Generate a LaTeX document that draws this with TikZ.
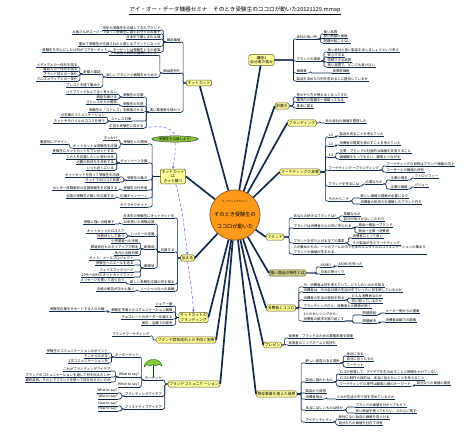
\documentclass[tikz,border=0pt]{standalone}
\usepackage{fontspec}
\setmainfont{Noto Sans CJK JP}
\usetikzlibrary{arrows.meta,shapes.geometric}
\definecolor{navy}{HTML}{13294B}
\definecolor{topicfill}{HTML}{FFFF99}
\definecolor{topicline}{HTML}{5A5A2A}
\definecolor{olivefill}{HTML}{CCCC88}
\definecolor{hubfill}{HTML}{FF9A1A}
\definecolor{relblue}{HTML}{5555EE}
\definecolor{leafgreen}{HTML}{8CC63F}
\newcommand{\lfs}{\fontsize{3.4}{4.2}\selectfont}
\newcommand{\tfs}{\fontsize{3.8}{4.4}\selectfont}

\begin{document}
\begin{tikzpicture}[x=1pt,y=-1pt,
  leaf/.style={font=\lfs,inner sep=0.4pt,align=left,
    append after command={(\tikzlastnode.south west) edge[draw=navy,line width=0.7pt] (\tikzlastnode.south east)}},
  lr/.style={leaf,anchor=south west},
  ll/.style={leaf,anchor=south east},
  topic/.style={draw=topicline,fill=topicfill,line width=0.5pt,rounded corners=1.5pt,
    font=\tfs,inner sep=1.3pt,align=center},
  spoke/.style={draw=navy,line width=1.7pt},
  tr/.style={draw=navy,line width=0.6pt,rounded corners=1.2pt,to path={-- ++(#1,0) |- (\tikztotarget)}},
  tr/.default=3,
  tl/.style={draw=navy,line width=0.6pt,rounded corners=1.2pt,to path={-- ++(-#1,0) |- (\tikztotarget)}},
  tl/.default=3,
  rel/.style={draw=relblue,densely dashed,line width=0.45pt,-{Stealth[length=3pt,width=2.4pt]}}]
  \path[use as bounding box,fill=white] (0,0) rectangle (470,442);

  \node[font=\fontsize{5.6}{6}\selectfont,anchor=south,inner sep=0.6pt] (title) at (235,14)
    {アイ・オー・データ機器セミナ　そのとき受験生のココロが動いた20121129.mmap};
  \draw[line width=0.4pt] (title.south west) -- (title.south east);

  \node[circle,draw=brown!60!black,fill=hubfill,minimum size=50,inner sep=0,line width=0.6pt,align=center] (hub) at (235,215)
    {{\fontsize{2.4}{3}\selectfont マーケティングセミナー}\\[2pt]{\fontsize{5.2}{6.4}\selectfont そのとき受験生の}\\{\fontsize{5.2}{6.4}\selectfont ココロが動いた}};

  \node[topic] (kk) at (199,83) {キットカット};
  \node[topic] (kkw) at (173,176.5) {キットカット\\は\\きっと勝つ};
  \node[topic,fill=topicfill!75!olivefill] (tsu) at (187.5,258) {伝える};
  \node[topic] (kbr) at (193.5,317.5) {キットカットの\\ブランディング};
  \node[topic] (bkc) at (186,340) {ブランド認知度向上の手段と施策};
  \node[topic] (bcom) at (194,384) {ブランドコミュニケーション};
  \node[topic] (ko1) at (261.5,60) {講座1\\自分達の強み};
  \node[topic] (mae) at (282,106) {前置き};
  \node[topic] (brd) at (302,123) {ブランディング};
  \node[topic] (mkt) at (300,172) {マーケティングの変遷};
  \node[topic] (brand) at (275,237) {ブランド};
  \node[topic,fill=olivefill] (tsuyo) at (287.5,273) {強い商品の特性とは};
  \node[topic] (shk) at (281,308) {消費者とココロ};
  \node[topic] (pre) at (272.5,345) {プレゼン};
  \node[topic] (kiz) at (276.5,394) {既存事業を超えた発想};

  \node[ll] (kk1) at (181,42) {商品価値};
  \node[ll] (kk1a) at (161,30) {何年も受験生を応援してきたブランド};
  \node[ll] (kk1b) at (161,34) {お客さんがスーパーで買って受験生に渡すお守りのお菓子};
  \node[ll] (kk1c) at (161,39) {日本中で親しまれる味};
  \node[ll] (kk1d) at (161,46) {重ねて受験生が応援されたと感じるブランドになった};
  \node[ll] (kk1e) at (161,52) {ターゲットは受験生とその家族};
  \node[ll] (kk1e1) at (108,52) {受験生を中心にした10代がコアターゲット};
  \node[ll] (kk2) at (181,73) {商品差別化};
  \node[ll] (kk2a) at (158,55) {マス広告と同時に展開していた};
  \node[ll] (kk2b) at (158,77) {新しいブランドと戦略をからめた};
  \node[ll] (kk2b1) at (101,74) {新聞と雑誌};
  \node[ll] (kk2b1a) at (78,67) {メディアとの一体化を図る};
  \node[ll] (kk2b1b) at (78,71) {雑誌との一体化を図る};
  \node[ll] (kk2b1c) at (78,76) {ブランド誌との一体化};
  \node[ll] (kk2b1d) at (78,81) {クロスメディアとの一体化};
  \node[ll] (kk2b2) at (101,87) {ブレストを経て集めた};
  \node[ll] (kk3) at (181,112) {高い緊張感を味わう};
  \node[ll] (kk3a) at (144,97) {受験生の応援};
  \node[ll] (kk3a1) at (117.5,94) {ハイブリッドなんて全く考えない};
  \node[ll] (kk3a2) at (117.5,99) {商品を届ける};
  \node[ll] (kk3b) at (144,106) {受験生の共感};
  \node[ll] (kk3b1) at (117.5,104) {ストレスからの開放};
  \node[ll] (kk3c) at (144,112) {受験生の「ストレス」を解放させる};
  \node[ll] (kk3d) at (132,121) {ストレス対策};
  \node[ll] (kk3d1) at (105.5,117) {合言葉のコミュニケーション};
  \node[ll] (kk3d2) at (105.5,123) {ネットやモバイルの口コミを使う};
  \node[ll] (kk3e) at (144,128) {広告も受験生に向ける};

  \node[ll] (kw1) at (148,144) {受験生との関係};
  \node[ll] (kw1a) at (118,140) {きっかけ};
  \node[ll] (kw1b) at (118,148) {キットカットは受験生を応援};
  \node[ll] (kw1b1) at (68,144) {徹底的にデザイン};
  \node[ll] (kw2) at (148,163) {キャンペーン企画};
  \node[ll] (kw2a) at (114.5,153) {受験生にキットカットをプレゼントする};
  \node[ll] (kw2b) at (114.5,159) {この人を応援したいと思わせる};
  \node[ll] (kw2c) at (114.5,164) {必勝の気持ちを共有する};
  \node[ll] (kw2d) at (114.5,170) {いつも近くにいる};
  \node[ll] (kw3) at (148,180) {受験生の動き};
  \node[ll] (kw3a) at (120,177) {キットカットを持って受験生を応援};
  \node[ll] (kw3b) at (120,182) {ネットでの口コミ拡散};
  \node[ll] (kw4) at (148,190) {受験生の代弁者};
  \node[ll] (kw4a) at (118,190) {センター試験直前の全国受験生を応援する};
  \node[ll] (kw5) at (148,198) {応援キャンペーン};
  \node[ll] (kw5a) at (114.5,198) {全国の受験生の願いを応援する};
  \node[ll] (kw6) at (148,207) {サクラサクキット};

  \node[ll] (ts0) at (175,218) {日本中の受験生にキットカットを};
  \node[ll] (ts1) at (175,252) {応援する};
  \node[ll] (ts1a) at (155,224) {10年続いた受験応援};
  \node[ll] (ts1a1) at (115,224) {受験に強い合格菓子};
  \node[ll] (ts1b) at (155,236) {ハッピーの定番};
  \node[ll] (ts1b1) at (125,233) {キットカットのロゴ入り};
  \node[ll] (ts1b2) at (125,238) {年賀状として使う};
  \node[ll] (ts1c) at (155,249) {新商品};
  \node[ll] (ts1c1) at (139,243) {小売業者への手紙};
  \node[ll] (ts1c2) at (139,249) {鉄道会社とのタイアップで駅名};
  \node[ll] (ts1c3) at (139,255) {地元の合格祈願};
  \node[ll] (ts1d) at (155,268) {郵便局};
  \node[ll] (ts1d1) at (134,260) {キット、メールプロジェクト};
  \node[ll] (ts1d2) at (134,265) {受験生へのエールを送る};
  \node[ll] (ts1d3) at (134,272) {フェイスブックページ};
  \node[ll] (ts1d4) at (134,277) {20代〜40代のキットカットファン};
  \node[ll] (ts2) at (175,284) {新しい受験生応援の形を探る};
  \node[ll] (ts2a) at (125,282) {メッセージを書いて送り合う};
  \node[ll] (ts3) at (175,291) {ソーシャル化への挑戦};
  \node[ll] (ts3a) at (135,291) {合格の報告が次々と届く};

  \node[ll] (kb1) at (173,306) {シェア一番};
  \node[ll] (kb2) at (173,312) {受験生市場とのコミュニケーション戦略};
  \node[ll] (kb2a) at (105,311) {受験生応援をサポートする人々の輪};
  \node[ll] (kb3) at (173,319) {チョコレートのボーダーを越える};
  \node[ll] (kb4) at (173,325) {保存・店舗での販売};
  \node[ll] (bk1) at (150,336) {ブランドマーケティング};

  \node[ll] (bc1) at (162.5,380) {ターゲット};
  \node[ll] (bc1a) at (139.5,357) {キーターゲット};
  \node[ll] (bc1a1) at (108.5,353) {受験生のコミュニケーションのポイント};
  \node[ll] (bc1a2) at (108.5,358) {そこから広がる};
  \node[ll] (bc1a3) at (108.5,363) {2次コミュニケーション先};
  \node[ll] (bc1b) at (139.5,377) {What to say?};
  \node[ll] (bc1b1) at (111,371) {これがブランディングアイデア};
  \node[ll] (bc1b2) at (111,377) {ブランドのコミュニケーションを通して何を伝えたいか};
  \node[ll] (bc1b3) at (111,382) {最終目的。その上でブランドを使って何を伝えたいのか};
  \node[ll] (bc1c) at (139.5,387) {When to say?};
  \node[ll] (bc2) at (162.5,396) {ブランディングアイデア};
  \node[ll] (bc2a) at (118,393) {What to say?};
  \node[ll] (bc2b) at (118,399) {Who to say?};
  \node[ll] (bc3) at (162.5,409) {クリエイティブアイデア};
  \node[ll] (bc3a) at (118,406) {How to say?};
  \node[ll] (bc3b) at (118,411) {How to say?};

  \node[lr] (k1) at (296,39) {会社の良い所};
  \node[lr] (k1a) at (323,34) {良い品質};
  \node[lr] (k1b) at (323,38.5) {良い商品の価値};
  \node[lr] (k1c) at (323,43) {問題が起こらない};
  \node[lr] (k2) at (296,61) {ブランドの源泉};
  \node[lr] (k2a) at (327,52) {良い会社と良い製品を出しましょうという考え};
  \node[lr] (k2b) at (327,57) {安心できる};
  \node[lr] (k2c) at (327,62) {信頼できる品質};
  \node[lr] (k2d) at (327,67) {良い品質で、どこにも負けない};
  \node[lr] (k3) at (296,73) {価格帯};
  \node[lr] (k3a) at (332,73) {良質低価格};
  \node[lr] (k4) at (296,81) {製品を決めたら何を求める人に提供しているか};
  \node[lr] (m1) at (296,97) {昔のやり方が使えなくなってきた};
  \node[lr] (m2) at (296,102) {業界内の常識を一度疑ってみる};
  \node[lr] (m3) at (296,108) {基本に戻る};
  \node[lr] (b1) at (325,123) {あの会社の価値を整理した};

  \node[lr] (mk1) at (328,137) {1.0};
  \node[lr] (mk1a) at (339,136) {製品を売ることを考えていた};
  \node[lr] (mk2) at (328,146) {2.0};
  \node[lr] (mk2a) at (339,145) {消費者の需要を満たすことを考えていた};
  \node[lr] (mk3) at (328,157) {3.0};
  \node[lr] (mk3a) at (339,153) {企業・ブランドの社会的な価値を共有すること};
  \node[lr] (mk3b) at (339,159) {価値観をもってもらい、顧客とつながる};
  \node[lr] (mk4) at (328,170) {マーケティング→ブランディング};
  \node[lr] (mk4a) at (386,166) {マーケティングの目的はブランド価値の向上};
  \node[lr] (mk4b) at (386,172) {ユーザーとの価値の共有};
  \node[lr] (mk5) at (328,186) {ブランドを作るには};
  \node[lr] (mk5a) at (365,184) {必要なもの};
  \node[lr] (mk5a1) at (390,180) {企業の理念};
  \node[lr] (mk5a1a) at (414,178) {フィロソフィー};
  \node[lr] (mk5a2) at (390,189) {企業の価値};
  \node[lr] (mk5a2a) at (414,187) {バリュー};
  \node[lr] (mk6) at (328,201) {今だからこそ};
  \node[lr] (mk6a) at (360,198) {新しい価値の提案が必要になり};
  \node[lr] (mk6b) at (360,204) {消費者の気持ちを理解したブランド作り};

  \node[lr] (bd1) at (293,218) {あなたの好きなブランドは?};
  \node[lr] (bd1a) at (343,216) {素敵なもの};
  \node[lr] (bd1b) at (343,221) {自分が気づかないこだわり};
  \node[lr] (bd2) at (293,228) {ブランドは消費者の心の中に作られる};
  \node[lr] (bd2a) at (358,227) {商品→商品→ブランド};
  \node[lr] (bd2b) at (358,233) {商品→企業→消費者};
  \node[lr] (bd3) at (293,243) {ブランドを作り上げる全ての要素};
  \node[lr] (bd3a) at (352,238) {消費者にとって良い};
  \node[lr] (bd3b) at (352,245) {その製品が生むマーケティング};
  \node[lr] (bd4) at (293,254) {人が集めたもの、一つのブームの中で生まれたスタイルのコミュニケーションの集まり\\ブランドの価値が生まれる};
  \node[lr] (ty1) at (320,267) {ASIMO};
  \node[lr] (ty1a) at (338,266) {ASIMOを作った};
  \node[lr] (ty2) at (320,274) {日本の物づくり};

  \node[lr] (sh1) at (303,287) {今、消費者は何を考えていて、どうしたいのかを知る};
  \node[lr] (sh2) at (303,292) {消費者は、今の自分達の生活の中でいったい何を欲しているのか};
  \node[lr] (sh3) at (303,300) {消費者の生活の現状を知る};
  \node[lr] (sh3a) at (351,298) {どんな消費者なのか};
  \node[lr] (sh3b) at (351,303) {何に困っているのか};
  \node[lr] (sh4) at (303,308) {ブランディングだと、消費者との関係が続く};
  \node[lr] (sh5) at (303,321) {2つのセンシングから、\\消費者の欲求を掘り起こす};
  \node[lr] (sh5a) at (362,315) {問題提起};
  \node[lr] (sh5a1) at (385,313) {メーカー側からの提案};
  \node[lr] (sh5b) at (362,323) {問題解決};
  \node[lr] (sh5b1) at (385,322) {消費者目線での提案};
  \node[lr] (pr1) at (288,338) {発表者：ブランドのための業務改善を提案};
  \node[lr] (pr2) at (288,345) {発表者のニックネームと気持ち};

  \node[lr] (kz1) at (305,363) {新しい発見のある場所};
  \node[lr] (kz1a) at (346,356) {身近にある};
  \node[lr] (kz1b) at (346,361.5) {自分に合ったもの};
  \node[lr] (kz1c) at (346,367) {マーケット};
  \node[lr] (kz2) at (305,382) {製品に隠れたもの};
  \node[lr] (kz2a) at (339,374) {ロゴが登場して、アイデアを生み出すことに時間をかけていない};
  \node[lr] (kz2b) at (339,380) {ロゴの制作の目的は、本当に伝えたいことを考えること};
  \node[lr] (kz2c) at (339,386) {マーケティングの専門は顧客心理のキーワード};
  \node[lr] (kz2c1) at (416,385) {自分なりの価値の創造};
  \node[lr] (kz3) at (305,393) {製品から発想};
  \node[lr] (kz4) at (305,399) {消費者視点};
  \node[lr] (kz4a) at (336,399) {人々が生活の中で何を求めているのか};
  \node[lr] (kz5) at (305,410) {本当にほしいものは何か};
  \node[lr] (kz5a) at (355,407) {ブランドの価値を分かってもらう};
  \node[lr] (kz5b) at (355,413) {良い商品を使ってもらい、人の心に残す};
  \node[lr] (kz6) at (305,422) {アイデンティティ};
  \node[lr] (kz6a) at (338,419) {他社にない独自の価値を見つける};
  \node[lr] (kz6b) at (338,425) {自分たちの価値を社内で共有};

  \path (kk.west) edge[tl] (kk1.south east) edge[tl] (kk2.south east) edge[tl] (kk3.south east);
  \path (kk1.south west) edge[tl] (kk1a.south east) edge[tl] (kk1b.south east) edge[tl] (kk1c.south east)
    edge[tl] (kk1d.south east) edge[tl] (kk1e.south east);
  \path (kk1e.south west) edge[tl] (kk1e1.south east);
  \path (kk2.south west) edge[tl] (kk2a.south east) edge[tl] (kk2b.south east);
  \path (kk2b.south west) edge[tl] (kk2b1.south east) edge[tl] (kk2b2.south east);
  \path (kk2b1.south west) edge[tl] (kk2b1a.south east) edge[tl] (kk2b1b.south east)
    edge[tl] (kk2b1c.south east) edge[tl] (kk2b1d.south east);
  \path (kk3.south west) edge[tl] (kk3a.south east) edge[tl] (kk3b.south east) edge[tl] (kk3c.south east)
    edge[tl] (kk3d.south east) edge[tl] (kk3e.south east);
  \path (kk3a.south west) edge[tl] (kk3a1.south east) edge[tl] (kk3a2.south east);
  \path (kk3b.south west) edge[tl] (kk3b1.south east);
  \path (kk3d.south west) edge[tl] (kk3d1.south east) edge[tl] (kk3d2.south east);

  \path (kkw.west) edge[tl=8] (kw1.south east) edge[tl=8] (kw2.south east) edge[tl=8] (kw3.south east)
    edge[tl=8] (kw4.south east) edge[tl=8] (kw5.south east) edge[tl=8] (kw6.south east);
  \path (kw1.south west) edge[tl] (kw1a.south east) edge[tl] (kw1b.south east);
  \path (kw1b.south west) edge[tl] (kw1b1.south east);
  \path (kw2.south west) edge[tl] (kw2a.south east) edge[tl] (kw2b.south east) edge[tl] (kw2c.south east)
    edge[tl] (kw2d.south east);
  \path (kw3.south west) edge[tl] (kw3a.south east) edge[tl] (kw3b.south east);
  \path (kw4.south west) edge[tl] (kw4a.south east);
  \path (kw5.south west) edge[tl] (kw5a.south east);

  \path (tsu.west) edge[tl] (ts0.south east) edge[tl] (ts1.south east) edge[tl] (ts2.south east) edge[tl] (ts3.south east);
  \path (ts1.south west) edge[tl] (ts1a.south east) edge[tl] (ts1b.south east) edge[tl] (ts1c.south east)
    edge[tl] (ts1d.south east);
  \path (ts1a.south west) edge[tl] (ts1a1.south east);
  \path (ts1b.south west) edge[tl] (ts1b1.south east) edge[tl] (ts1b2.south east);
  \path (ts1c.south west) edge[tl] (ts1c1.south east) edge[tl] (ts1c2.south east) edge[tl] (ts1c3.south east);
  \path (ts1d.south west) edge[tl] (ts1d1.south east) edge[tl] (ts1d2.south east) edge[tl] (ts1d3.south east)
    edge[tl] (ts1d4.south east);
  \path (ts2.south west) edge[tl] (ts2a.south east);
  \path (ts3.south west) edge[tl] (ts3a.south east);

  \path (kbr.west) edge[tl] (kb1.south east) edge[tl] (kb2.south east) edge[tl] (kb3.south east) edge[tl] (kb4.south east);
  \path (kb2.south west) edge[tl] (kb2a.south east);
  \path (bkc.west) edge[tl] (bk1.south east);
  \path (bcom.west) edge[tl] (bc1.south east) edge[tl] (bc2.south east) edge[tl] (bc3.south east);
  \path (bc1.south west) edge[tl] (bc1a.south east) edge[tl] (bc1b.south east) edge[tl] (bc1c.south east);
  \path (bc1a.south west) edge[tl] (bc1a1.south east) edge[tl] (bc1a2.south east) edge[tl] (bc1a3.south east);
  \path (bc1b.south west) edge[tl] (bc1b1.south east) edge[tl] (bc1b2.south east) edge[tl] (bc1b3.south east);
  \path (bc2.south west) edge[tl] (bc2a.south east) edge[tl] (bc2b.south east);
  \path (bc3.south west) edge[tl] (bc3a.south east) edge[tl] (bc3b.south east);

  \path (ko1.east) edge[tr=19] (k1.south west) edge[tr=19] (k2.south west) edge[tr=19] (k3.south west) edge[tr=19] (k4.south west);
  \path (k1.south east) edge[tr] (k1a.south west) edge[tr] (k1b.south west) edge[tr] (k1c.south west);
  \path (k2.south east) edge[tr] (k2a.south west) edge[tr] (k2b.south west) edge[tr] (k2c.south west) edge[tr] (k2d.south west);
  \path (k3.south east) edge[tr] (k3a.south west);
  \path (mae.east) edge[tr=4] (m1.south west) edge[tr=4] (m2.south west) edge[tr=4] (m3.south west);
  \path (brd.east) edge[tr] (b1.south west);
  \path (mkt.east) edge[tr=5] (mk1.south west) edge[tr=5] (mk2.south west) edge[tr=5] (mk3.south west)
    edge[tr=5] (mk4.south west) edge[tr=5] (mk5.south west) edge[tr=5] (mk6.south west);
  \path (mk1.south east) edge[tr=2] (mk1a.south west);
  \path (mk2.south east) edge[tr=2] (mk2a.south west);
  \path (mk3.south east) edge[tr=2] (mk3a.south west) edge[tr=2] (mk3b.south west);
  \path (mk4.south east) edge[tr] (mk4a.south west) edge[tr] (mk4b.south west);
  \path (mk5.south east) edge[tr] (mk5a.south west);
  \path (mk5a.south east) edge[tr] (mk5a1.south west) edge[tr] (mk5a2.south west);
  \path (mk5a1.south east) edge[tr] (mk5a1a.south west);
  \path (mk5a2.south east) edge[tr] (mk5a2a.south west);
  \path (mk6.south east) edge[tr] (mk6a.south west) edge[tr] (mk6b.south west);

  \path (brand.east) edge[tr=5] (bd1.south west) edge[tr=5] (bd2.south west) edge[tr=5] (bd3.south west) edge[tr=5] (bd4.south west);
  \path (bd1.south east) edge[tr] (bd1a.south west) edge[tr] (bd1b.south west);
  \path (bd2.south east) edge[tr] (bd2a.south west) edge[tr] (bd2b.south west);
  \path (bd3.south east) edge[tr] (bd3a.south west) edge[tr] (bd3b.south west);
  \path (tsuyo.east) edge[tr=10] (ty1.south west) edge[tr=10] (ty2.south west);
  \path (ty1.south east) edge[tr] (ty1a.south west);
  \path (shk.east) edge[tr] (sh1.south west) edge[tr] (sh2.south west) edge[tr] (sh3.south west)
    edge[tr] (sh4.south west) edge[tr] (sh5.south west);
  \path (sh3.south east) edge[tr] (sh3a.south west) edge[tr] (sh3b.south west);
  \path (sh5.south east) edge[tr=8] (sh5a.south west) edge[tr=8] (sh5b.south west);
  \path (sh5a.south east) edge[tr] (sh5a1.south west);
  \path (sh5b.south east) edge[tr] (sh5b1.south west);
  \path (pre.east) edge[tr] (pr1.south west) edge[tr] (pr2.south west);
  \path (kiz.east) edge[tr=4] (kz1.south west) edge[tr=4] (kz2.south west) edge[tr=4] (kz3.south west)
    edge[tr=4] (kz4.south west) edge[tr=4] (kz5.south west) edge[tr=4] (kz6.south west);
  \path (kz1.south east) edge[tr] (kz1a.south west) edge[tr] (kz1b.south west) edge[tr] (kz1c.south west);
  \path (kz2.south east) edge[tr] (kz2a.south west) edge[tr] (kz2b.south west) edge[tr] (kz2c.south west);
  \path (kz2c.south east) edge[tr] (kz2c1.south west);
  \path (kz4.south east) edge[tr] (kz4a.south west);
  \path (kz5.south east) edge[tr] (kz5a.south west) edge[tr] (kz5b.south west);
  \path (kz6.south east) edge[tr] (kz6a.south west) edge[tr] (kz6b.south west);

  \draw[spoke] (hub) -- (kk);
  \draw[spoke] (hub) -- (kkw.east);
  \draw[spoke] (hub) -- (tsu.east);
  \draw[spoke] (hub) -- (kbr.east);
  \draw[spoke] (hub) -- (bkc.east);
  \draw[spoke] (hub) -- (bcom.east);
  \draw[spoke] (hub) -- (kiz.west);
  \draw[spoke] (hub) -- (pre.west);
  \draw[spoke] (hub) -- (shk.west);
  \draw[spoke] (hub) -- (tsuyo.west);
  \draw[spoke] (hub) -- (brand.west);
  \draw[spoke] (hub) -- (mkt.west);
  \draw[spoke] (hub) -- (brd.west);
  \draw[spoke] (hub) -- (mae.west);
  \draw[spoke] (hub) -- (ko1);

  \node[ellipse,draw=black!75,fill=leafgreen,font=\lfs,inner sep=0.6pt,line width=0.5pt] (ouen) at (175,139) {受験生を応援しよう!};
  \draw[rel,-] (kk3e.south east) .. controls (160,125) and (172,127) .. (ouen.north);
  \draw[rel] (ouen.south) .. controls (176,152) and (174,160) .. (kkw.north);
  \draw[rel] (kkw.-70) .. controls (183,210) and (185,235) .. (tsu.north);
  \draw[rel] (tsu.south) .. controls (190,280) and (193,298) .. (kbr.north);

  \draw[green!35!black,line width=0.9pt] (153,364) -- (153,376.5);
  \filldraw[fill=leafgreen,draw=green!40!black,line width=0.3pt]
    (144,367) .. controls (145,357) and (161,357) .. (162,366)
    -- (159,364) -- (156,366) -- (153,364.5) -- (150,366) -- (147,364.5) -- cycle;
\end{tikzpicture}
\end{document}
